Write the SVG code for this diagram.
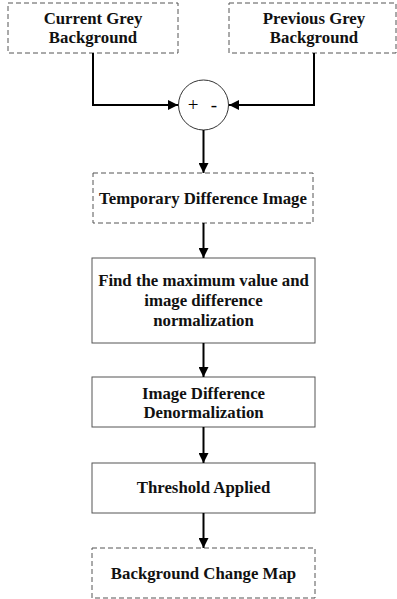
<svg xmlns="http://www.w3.org/2000/svg" width="397" height="599" viewBox="0 0 397 599">
<defs>
<marker id="ah" viewBox="0 0 10 10" refX="10" refY="5" markerWidth="5" markerHeight="5" orient="auto" markerUnits="strokeWidth">
<path d="M0,0 L10,5 L0,10 z" fill="#000"/>
</marker>
<style>
.box{fill:#fff;stroke:#555;stroke-width:1}
.dash{stroke-dasharray:5,3}
.t{font-family:"Liberation Serif","Times New Roman",serif;font-weight:bold;font-size:16.8px;fill:#111;text-anchor:middle;dominant-baseline:central}
.c{fill:none;stroke:#000;stroke-width:2}
.op{font-family:"Liberation Serif","Times New Roman",serif;font-size:19px;fill:#000;text-anchor:middle;dominant-baseline:central}
</style>
</defs>
<rect width="397" height="599" fill="#fff"/>
<g id="current">
<rect class="box dash" x="8" y="3" width="170" height="50"/>
<text class="t" x="93" y="18">Current Grey</text>
<text class="t" x="93" y="37">Background</text>
</g>
<g id="previous">
<rect class="box dash" x="229" y="3" width="167" height="50"/>
<text class="t" x="314" y="18">Previous Grey</text>
<text class="t" x="314" y="37">Background</text>
</g>
<g id="sum">
<circle cx="203.5" cy="105" r="25" fill="#fff" stroke="#333" stroke-width="1"/>
<text class="op" x="193" y="104">+</text>
<text class="op" x="214" y="104">-</text>
</g>
<g id="temp">
<rect class="box dash" x="93" y="173" width="220" height="50"/>
<text class="t" x="203" y="198">Temporary Difference Image</text>
</g>
<g id="findmax">
<rect class="box" x="92" y="258" width="223" height="85"/>
<text class="t" x="203.5" y="280">Find the maximum value and</text>
<text class="t" x="203.5" y="300">image difference</text>
<text class="t" x="203.5" y="320">normalization</text>
</g>
<g id="denorm">
<rect class="box" x="92" y="377" width="223" height="50"/>
<text class="t" x="203.5" y="393">Image Difference</text>
<text class="t" x="203.5" y="412">Denormalization</text>
</g>
<g id="threshold">
<rect class="box" x="92" y="463" width="223" height="50"/>
<text class="t" x="203.5" y="487">Threshold Applied</text>
</g>
<g id="changemap">
<rect class="box dash" x="92" y="548" width="223" height="50"/>
<text class="t" x="203.5" y="573">Background Change Map</text>
</g>
<g id="connectors">
<path class="c" d="M93,53 V105 H178" marker-end="url(#ah)"/>
<path class="c" d="M314,53 V105 H229" marker-end="url(#ah)"/>
<path class="c" d="M203.5,130 V173" marker-end="url(#ah)"/>
<path class="c" d="M203.5,223 V258" marker-end="url(#ah)"/>
<path class="c" d="M203.5,343 V377" marker-end="url(#ah)"/>
<path class="c" d="M203.5,427 V463" marker-end="url(#ah)"/>
<path class="c" d="M203.5,513 V548" marker-end="url(#ah)"/>
</g>
</svg>
